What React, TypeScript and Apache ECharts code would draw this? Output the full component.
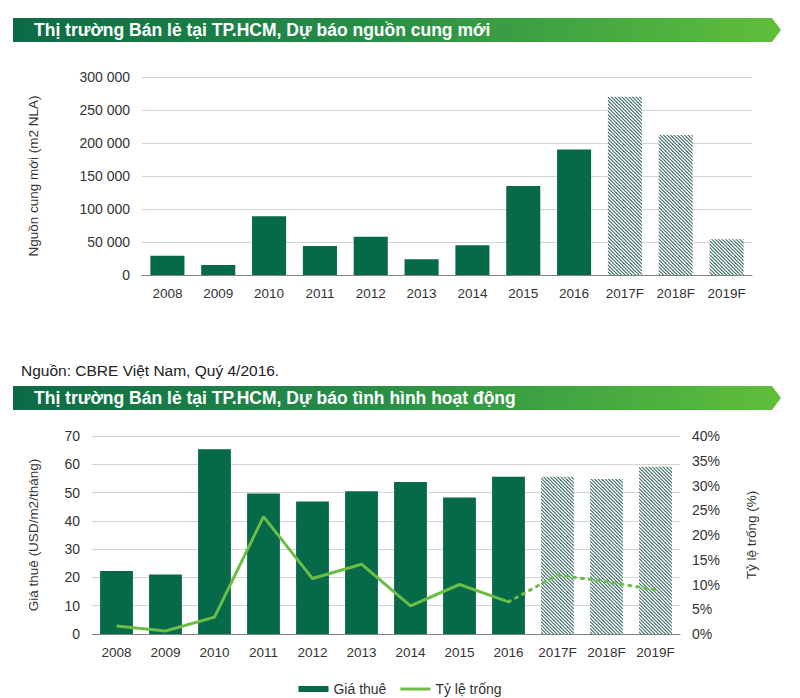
import React, { useEffect, useRef } from "react";
import * as echarts from "echarts";

const categories = ["2008", "2009", "2010", "2011", "2012", "2013", "2014", "2015", "2016", "2017F", "2018F", "2019F"];
const forecastFrom = 9;
const supplyValues = [29000, 15000, 89000, 44000, 58000, 24000, 45000, 135000, 190000, 270000, 212000, 54000];
const rentValues = [22.3, 21, 65.3, 49.7, 46.8, 50.5, 53.7, 48.3, 55.6, 55.6, 54.8, 59.1];
const vacancyActual = [1.6, 0.6, 3.4, 23.7, 11.2, 14.1, 5.7, 10, 6.5, null, null, null];
const vacancyForecast = [null, null, null, null, null, null, null, null, 6.5, 11.9, 10.6, 8.9];
const supplyTicks = [0, 50000, 100000, 150000, 200000, 250000, 300000];

const title1 = "Thị trường Bán lẻ tại TP.HCM, Dự báo nguồn cung mới";
const title2 = "Thị trường Bán lẻ tại TP.HCM, Dự báo tình hình hoạt động";
const sourceText = "Nguồn: CBRE Việt Nam, Quý 4/2016.";

const BAR = "#05694a";
const LINE = "#6cbd45";
const FONT = "Liberation Sans, Arial, sans-serif";

function makeHatch() {
  const s = 7;
  const c = document.createElement("canvas");
  c.width = s;
  c.height = s;
  const ctx = c.getContext("2d")!;
  ctx.fillStyle = "#ffffff";
  ctx.fillRect(0, 0, s, s);
  ctx.strokeStyle = "#3a6b62";
  ctx.lineWidth = 1.1;
  // "\" diagonal lines: going right moves down
  for (const k of [-7, -3.5, 0, 3.5, 7]) {
    ctx.beginPath();
    ctx.moveTo(k - 1, -1);
    ctx.lineTo(k + s + 1, s + 1);
    ctx.stroke();
  }
  return { image: c, repeat: "repeat" };
}

function fmtSpace(v: number) {
  return String(v).replace(/\B(?=(\d{3})+(?!\d))/g, " ");
}

function banner(y: number, text: string) {
  return {
    type: "group",
    children: [
      {
        type: "polygon",
        shape: { points: [[13, y], [772, y], [781, y + 12], [772, y + 24], [13, y + 24]] },
        style: {
          fill: new echarts.graphic.LinearGradient(0, 0, 1, 0, [
            { offset: 0, color: "#0c6a46" },
            { offset: 0.5, color: "#2a9146" },
            { offset: 1, color: "#5fbf3a" },
          ]),
        },
      },
      {
        type: "text",
        x: 34,
        y: y + 12,
        style: { text, fill: "#ffffff", font: `bold 17.5px ${FONT}`, textVerticalAlign: "middle" },
      },
    ],
  };
}

export default function App() {
  const ref = useRef<HTMLDivElement>(null);
  useEffect(() => {
    if (!ref.current) return;
    const chart = echarts.init(ref.current, undefined, { renderer: "svg" });
    const hatch = makeHatch();
    const xLabel = { color: "#333", fontSize: 13.5, fontFamily: FONT, margin: 11, interval: 0 };
    const yLabel = { color: "#333", fontSize: 14, fontFamily: FONT, margin: 12 };
    const nameStyle = { color: "#333", fontSize: 13.5, fontFamily: FONT };
    const splitLine = { show: true, lineStyle: { color: "#d4d4d4", width: 1 } };
    chart.setOption({
      animation: false,
      backgroundColor: "#ffffff",
      textStyle: { fontFamily: FONT },
      grid: [
        { left: 142, right: 48, top: 77, height: 198 },
        { left: 92, right: 120, top: 436, height: 198 },
      ],
      legend: {
        left: "center",
        top: 677,
        itemWidth: 30,
        itemHeight: 6,
        itemGap: 14,
        textStyle: { color: "#333", fontSize: 14, fontFamily: FONT },
        data: [
          { name: "Giá thuê", icon: "rect" },
          { name: "Tỷ lệ trống", icon: "path://M0,0H30V3H0Z" },
        ],
      },
      xAxis: [
        {
          type: "category",
          gridIndex: 0,
          data: categories,
          axisTick: { show: false },
          axisLine: { lineStyle: { color: "#808080" } },
          axisLabel: xLabel,
        },
        {
          type: "category",
          gridIndex: 1,
          data: categories,
          axisTick: { show: false },
          axisLine: { lineStyle: { color: "#808080" } },
          axisLabel: xLabel,
        },
      ],
      yAxis: [
        {
          type: "value",
          gridIndex: 0,
          min: supplyTicks[0],
          max: supplyTicks[supplyTicks.length - 1],
          interval: 50000,
          axisLabel: { ...yLabel, formatter: (v: number) => fmtSpace(v) },
          splitLine,
          name: "Nguồn cung mới (m2 NLA)",
          nameLocation: "middle",
          nameRotate: 90,
          nameGap: 102,
          nameTextStyle: nameStyle,
        },
        {
          type: "value",
          gridIndex: 1,
          min: 0,
          max: 70,
          interval: 10,
          axisLabel: yLabel,
          splitLine,
          name: "Giá thuê (USD/m2/tháng)",
          nameLocation: "middle",
          nameRotate: 90,
          nameGap: 52,
          nameTextStyle: nameStyle,
        },
        {
          type: "value",
          gridIndex: 1,
          position: "right",
          min: 0,
          max: 40,
          interval: 5,
          axisLabel: { ...yLabel, formatter: "{value}%" },
          splitLine: { show: false },
          name: "Tỷ lệ trống (%)",
          nameLocation: "middle",
          nameRotate: 90,
          nameGap: 64,
          nameTextStyle: nameStyle,
        },
      ],
      series: [
        {
          name: "Nguồn cung mới",
          type: "bar",
          xAxisIndex: 0,
          yAxisIndex: 0,
          barCategoryGap: "33%",
          itemStyle: { color: BAR },
          data: supplyValues.map((v, i) =>
            i >= forecastFrom ? { value: v, itemStyle: { color: hatch } } : v
          ),
        },
        {
          name: "Giá thuê",
          type: "bar",
          xAxisIndex: 1,
          yAxisIndex: 1,
          barCategoryGap: "33%",
          itemStyle: { color: BAR },
          data: rentValues.map((v, i) =>
            i >= forecastFrom ? { value: v, itemStyle: { color: hatch } } : v
          ),
        },
        {
          name: "Tỷ lệ trống",
          type: "line",
          xAxisIndex: 1,
          yAxisIndex: 2,
          symbol: "none",
          lineStyle: { color: LINE, width: 3 },
          itemStyle: { color: LINE },
          data: vacancyActual,
        },
        {
          name: "Tỷ lệ trống (dự báo)",
          type: "line",
          xAxisIndex: 1,
          yAxisIndex: 2,
          symbol: "none",
          lineStyle: { color: LINE, width: 3, type: [2, 6], cap: "round" },
          itemStyle: { color: LINE },
          data: vacancyForecast,
        },
      ],
      graphic: [
        banner(18, title1),
        banner(386, title2),
        {
          type: "text",
          x: 21,
          y: 370,
          style: { text: sourceText, fill: "#222", font: `15.5px ${FONT}`, textVerticalAlign: "middle" },
        },
      ],
    });
    return () => chart.dispose();
  }, []);
  return (
    <div
      ref={ref}
      style={{ position: "absolute", left: 0, top: 0, width: 800, height: 698 }}
    />
  );
}
